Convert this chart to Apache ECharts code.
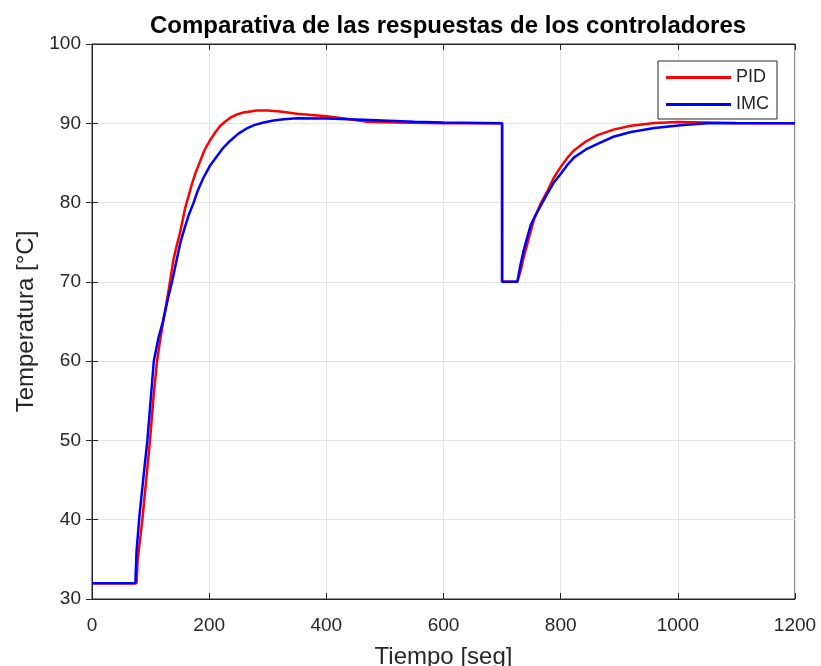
<!DOCTYPE html>
<html>
<head>
<meta charset="utf-8">
<script src="https://cdn.jsdelivr.net/npm/echarts@6/dist/echarts.min.js"></script>
<style>
  html, body { margin: 0; padding: 0; background: #fff; }
  #chart { width: 821px; height: 666px; }
</style>
</head>
<body>
<div id="chart"></div>
<script>
// lecturas del gráfico (tiempo en s, temperatura en °C)
const pidTime = [0, 76, 78, 86, 99, 105, 111, 116, 122, 128, 133, 139, 145, 150, 159, 170, 177, 184, 192, 201, 210, 218, 227, 236, 247, 258, 270, 281, 300, 321, 350, 400, 440, 470, 520, 600, 700,
  700, 726, 732, 737, 746, 755, 766, 777, 788, 800, 812, 823, 843, 863, 890, 920, 960, 1000, 1050, 1100, 1200];
const pidTemp = [32, 32, 35, 40, 50, 55.5, 60, 62.5, 65.2, 67.7, 70, 72.8, 74.7, 76.1, 79.3, 82.2, 83.8, 85.1, 86.6, 87.8, 88.8, 89.6, 90.2, 90.7, 91.1, 91.35, 91.5, 91.6, 91.6, 91.5, 91.2, 90.9, 90.5, 90.2, 90.1, 90, 90,
  70, 70, 71.5, 73.1, 75.6, 78, 79.9, 81.4, 83.1, 84.5, 85.7, 86.6, 87.7, 88.5, 89.2, 89.7, 90.05, 90.15, 90.1, 90.05, 90];

const imcTime = [0, 74, 76, 81, 88, 94.5, 100, 105.5, 113, 121, 130, 137.5, 144, 151, 159, 166, 173, 181, 190, 201, 213, 224, 236, 250, 264, 278, 293, 310, 327, 350, 400, 475, 550, 600, 700,
  700, 726, 731, 737, 743, 749, 757, 766, 777, 788, 800, 812, 823, 843, 863, 890, 920, 960, 1005, 1050, 1200];
const imcTemp = [32, 32, 36, 40.5, 45.5, 50, 55, 60, 62.8, 65, 68, 70.3, 72.6, 75, 77, 78.6, 79.9, 81.6, 83.1, 84.6, 85.8, 86.9, 87.8, 88.7, 89.35, 89.8, 90.1, 90.35, 90.5, 90.65, 90.6, 90.4, 90.2, 90.1, 90,
  70, 70, 72, 74, 75.6, 77.2, 78.4, 79.6, 81.1, 82.5, 83.6, 84.8, 85.7, 86.7, 87.4, 88.3, 88.9, 89.4, 89.75, 90, 90];

const xTicks = [0, 200, 400, 600, 800, 1000, 1200];
const yTicks = [30, 40, 50, 60, 70, 80, 90, 100];

const pair = (ts, vs) => ts.map((t, i) => [t, vs[i]]);

const chart = echarts.init(document.getElementById('chart'));
const txt = '#262626';
const font = '"Liberation Sans", Arial, sans-serif';

const option = {
  animation: false,
  backgroundColor: '#fff',
  title: {
    text: 'Comparativa de las respuestas de los controladores',
    left: 443,
    top: 9,
    textAlign: 'center',
    textStyle: { fontFamily: font, fontSize: 24, fontWeight: 'bold', color: '#000' },
  },
  legend: {
    orient: 'vertical',
    right: 44,
    top: 61,
    icon: 'rect',
    itemWidth: 65,
    itemHeight: 3,
    itemGap: 8,
    padding: [7, 8, 5, 8],
    backgroundColor: '#fff',
    borderColor: txt,
    borderWidth: 1,
    borderRadius: 0,
    textStyle: { fontFamily: font, fontSize: 18, lineHeight: 19, color: txt },
    data: ['PID', 'IMC'],
  },
  grid: {
    left: 92,
    right: 26,
    top: 44,
    bottom: 67,
    outerBoundsMode: 'none',
    show: true,
    borderColor: txt,
    borderWidth: 1,
  },
  xAxis: [
    {
      type: 'value',
      min: xTicks[0],
      max: xTicks[xTicks.length - 1],
      interval: 200,
      name: 'Tiempo [seg]',
      nameLocation: 'middle',
      nameGap: 46,
      nameTextStyle: { fontFamily: font, fontSize: 24, color: txt },
      axisLine: { show: true, lineStyle: { color: txt } },
      axisTick: { inside: true, length: 6, lineStyle: { color: txt } },
      axisLabel: { fontFamily: font, fontSize: 19, color: txt, margin: 17, formatter: (v) => String(v) },
      splitLine: { show: true, lineStyle: { color: '#e3e3e3' } },
    },
    {
      type: 'value',
      position: 'top',
      min: xTicks[0],
      max: xTicks[xTicks.length - 1],
      interval: 200,
      axisLine: { show: true, lineStyle: { color: txt } },
      axisTick: { inside: true, length: 6, lineStyle: { color: txt } },
      axisLabel: { show: false },
      splitLine: { show: false },
    },
  ],
  yAxis: [
    {
      type: 'value',
      min: yTicks[0],
      max: yTicks[yTicks.length - 1],
      interval: 10,
      name: 'Temperatura [°C]',
      nameLocation: 'middle',
      nameGap: 54,
      nameTextStyle: { fontFamily: font, fontSize: 24, color: txt },
      axisLine: { show: true, lineStyle: { color: txt } },
      axisTick: { inside: true, length: 6, lineStyle: { color: txt } },
      axisLabel: { fontFamily: font, fontSize: 19, color: txt, margin: 11 },
      splitLine: { show: true, lineStyle: { color: '#e3e3e3' } },
    },
    {
      type: 'value',
      position: 'right',
      min: yTicks[0],
      max: yTicks[yTicks.length - 1],
      interval: 10,
      axisLine: { show: true, lineStyle: { color: txt } },
      axisTick: { inside: true, length: 6, lineStyle: { color: txt } },
      axisLabel: { show: false },
      splitLine: { show: false },
    },
  ],
  series: [
    {
      name: 'PID',
      type: 'line',
      symbol: 'none',
      color: '#ff0000',
      lineStyle: { width: 2.5, color: '#ff0000' },
      data: pair(pidTime, pidTemp),
    },
    {
      name: 'IMC',
      type: 'line',
      symbol: 'none',
      color: '#0000ff',
      lineStyle: { width: 2.5, color: '#0000ff' },
      data: pair(imcTime, imcTemp),
    },
  ],
};

chart.setOption(option);
</script>
</body>
</html>
